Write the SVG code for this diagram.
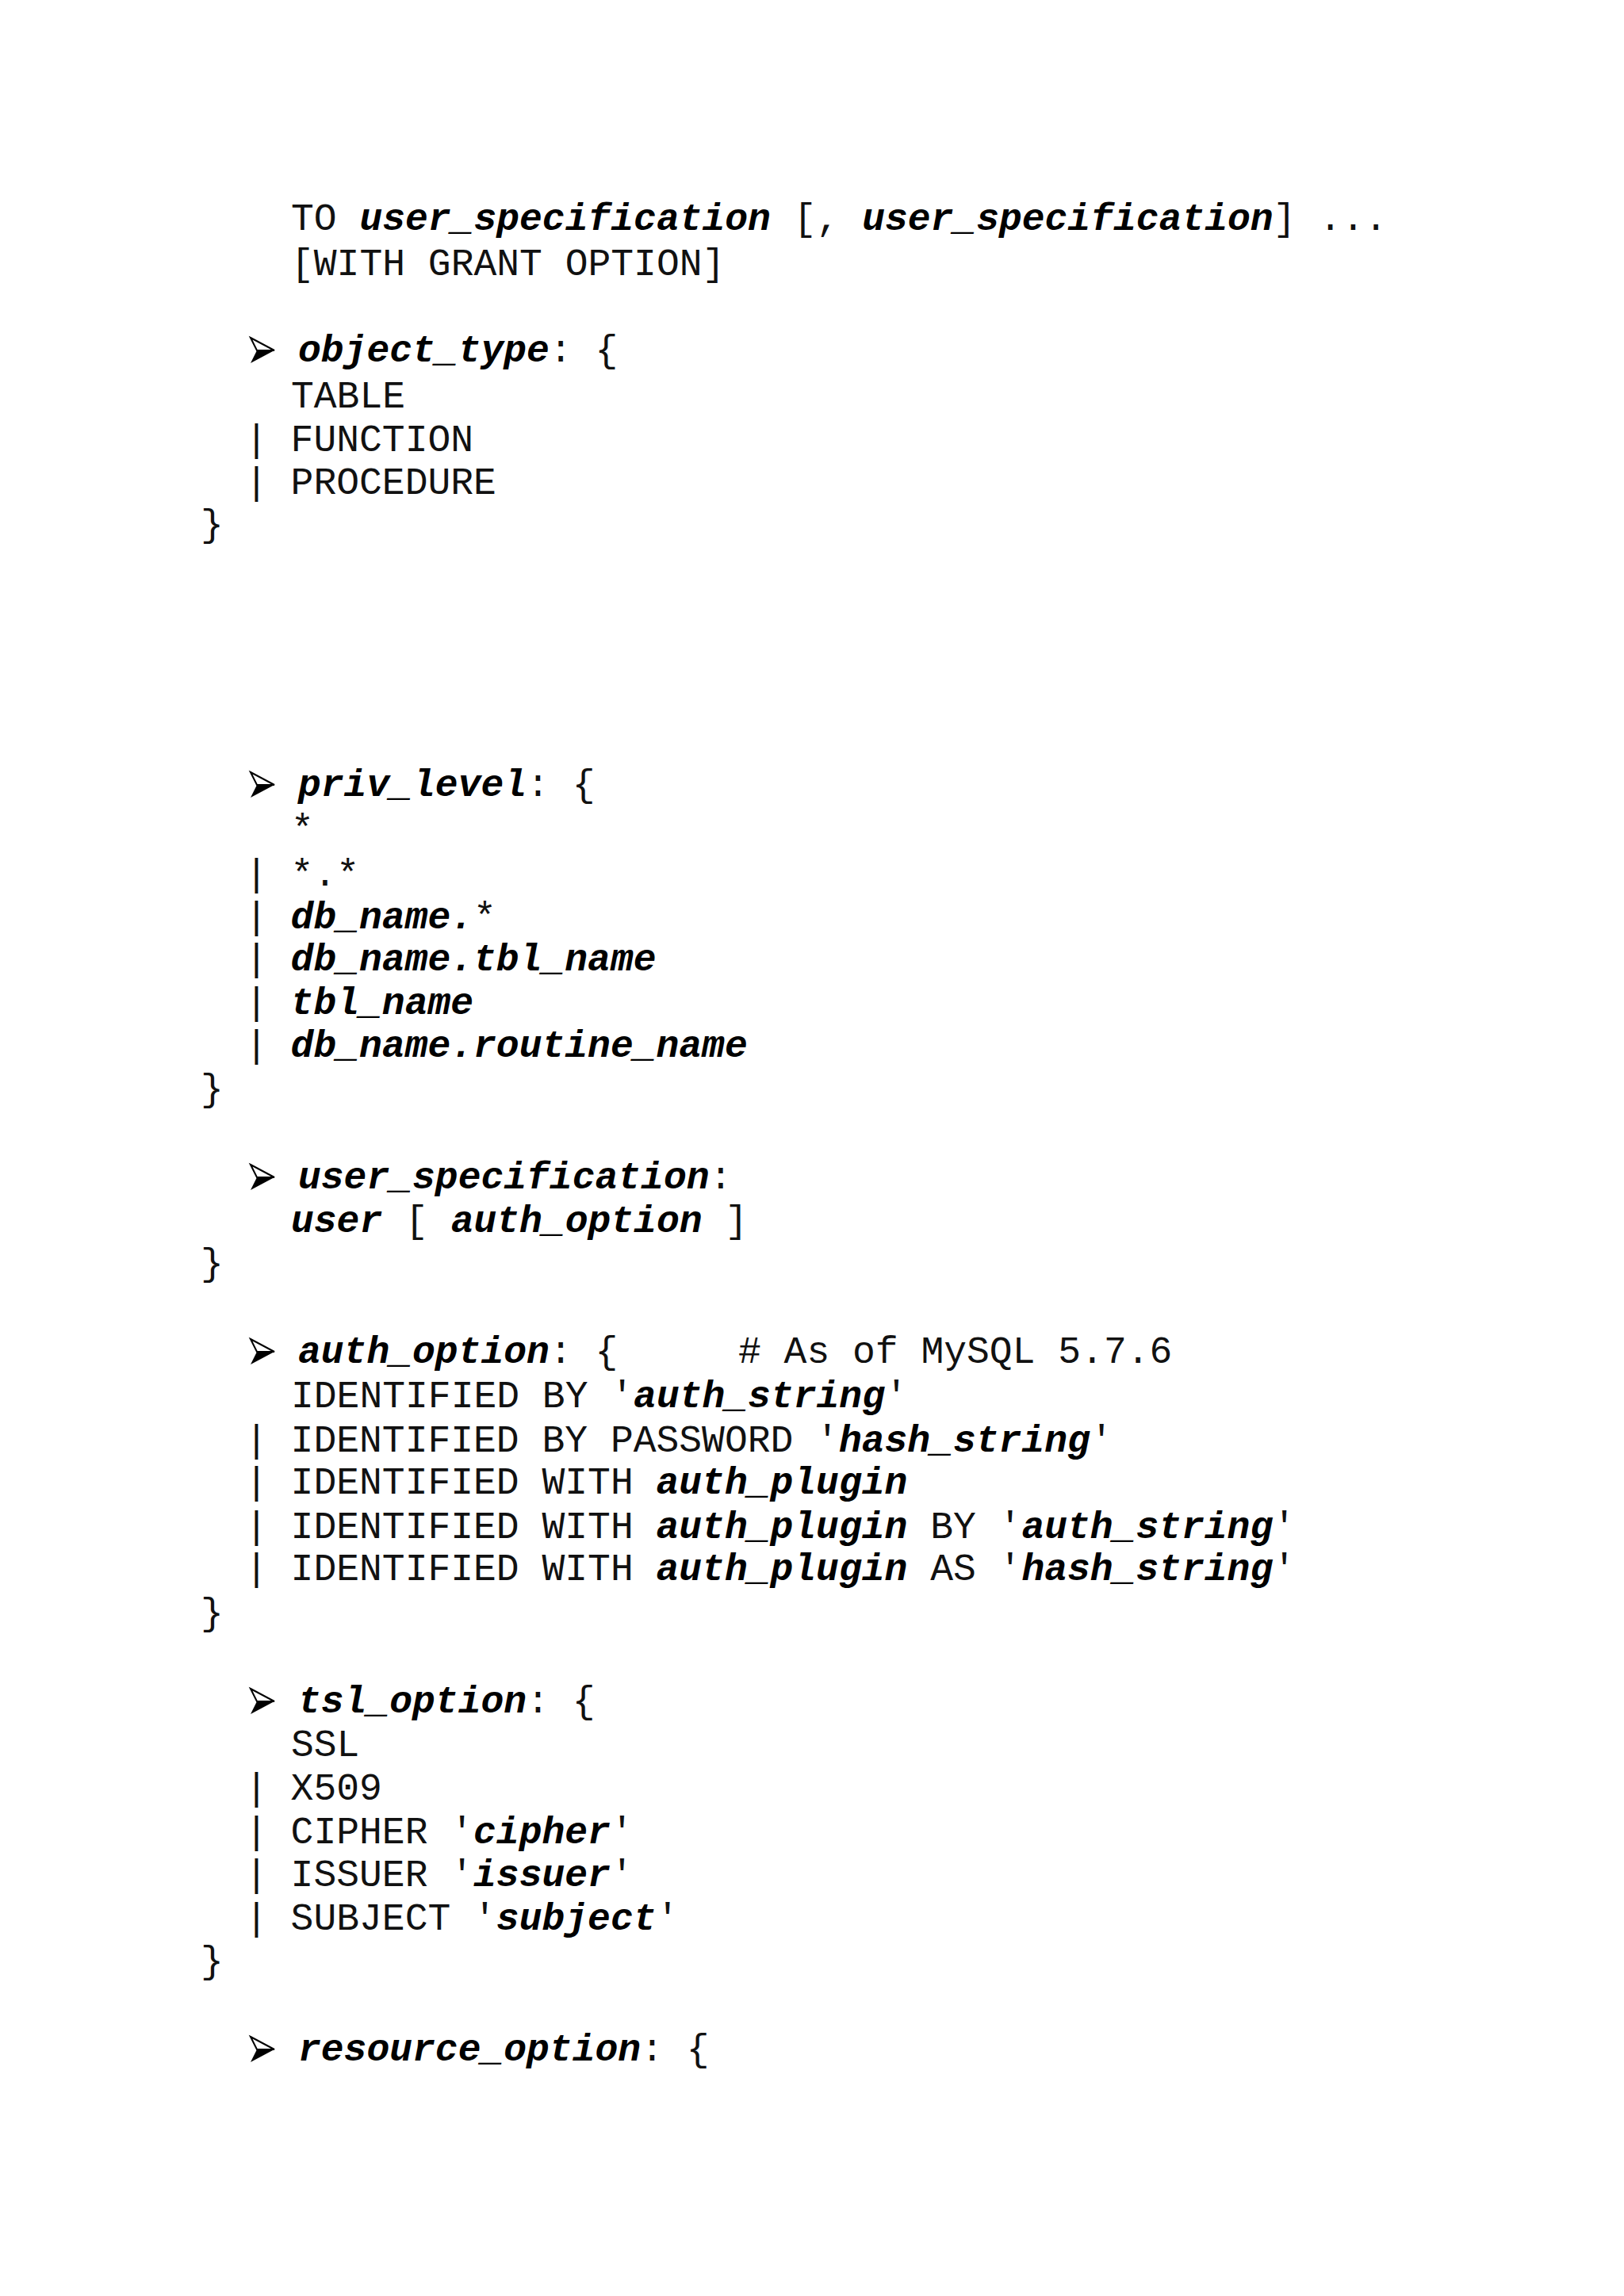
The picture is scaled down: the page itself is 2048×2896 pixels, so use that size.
<svg xmlns="http://www.w3.org/2000/svg" width="2048" height="2896" viewBox="0 0 2048 2896">
<defs>
<style>
text{font-family:"Liberation Mono","Courier New",monospace;font-size:48px;fill:#111;white-space:pre}
.b{font-weight:bold;font-style:italic;fill:#000}
</style>
<g id="arrow">
<polygon points="0,0 30,16 0,32 8,16" fill="#000"/>
<polygon points="0,0 30,16 8,16" fill="#fff" stroke="#000" stroke-width="2"/>
</g>
</defs>
<rect width="2048" height="2896" fill="#fff"/>
<g id="grant">
<text x="367" y="290" xml:space="preserve">TO <tspan class="b">user_specification</tspan> [, <tspan class="b">user_specification</tspan>] ...</text>
<text x="367" y="347">[WITH GRANT OPTION]</text>
</g>
<g id="object_type">
<use href="#arrow" x="316" y="426"/>
<text x="376" y="456"><tspan class="b">object_type</tspan>: {</text>
<text x="367" y="514">TABLE</text>
<text x="309" y="569" xml:space="preserve">| FUNCTION</text>
<text x="309" y="623" xml:space="preserve">| PROCEDURE</text>
<text x="253" y="676">}</text>
</g>
<g id="priv_level">
<use href="#arrow" x="316" y="974"/>
<text x="376" y="1004"><tspan class="b">priv_level</tspan>: {</text>
<text x="367" y="1060">*</text>
<text x="309" y="1117" xml:space="preserve">| *.*</text>
<text x="309" y="1171" xml:space="preserve">| <tspan class="b">db_name.</tspan>*</text>
<text x="309" y="1224" xml:space="preserve">| <tspan class="b">db_name.tbl_name</tspan></text>
<text x="309" y="1279" xml:space="preserve">| <tspan class="b">tbl_name</tspan></text>
<text x="309" y="1333" xml:space="preserve">| <tspan class="b">db_name.routine_name</tspan></text>
<text x="253" y="1388">}</text>
</g>
<g id="user_specification">
<use href="#arrow" x="316" y="1469"/>
<text x="376" y="1499"><tspan class="b">user_specification</tspan>:</text>
<text x="367" y="1554" xml:space="preserve"><tspan class="b">user</tspan> [ <tspan class="b">auth_option</tspan> ]</text>
<text x="253" y="1608">}</text>
</g>
<g id="auth_option">
<use href="#arrow" x="316" y="1689"/>
<text x="376" y="1719"><tspan class="b">auth_option</tspan>: {</text>
<text x="931" y="1719"># As of MySQL 5.7.6</text>
<text x="367" y="1775" xml:space="preserve">IDENTIFIED BY '<tspan class="b">auth_string</tspan>'</text>
<text x="309" y="1831" xml:space="preserve">| IDENTIFIED BY PASSWORD '<tspan class="b">hash_string</tspan>'</text>
<text x="309" y="1884" xml:space="preserve">| IDENTIFIED WITH <tspan class="b">auth_plugin</tspan></text>
<text x="309" y="1940" xml:space="preserve">| IDENTIFIED WITH <tspan class="b">auth_plugin</tspan> BY '<tspan class="b">auth_string</tspan>'</text>
<text x="309" y="1993" xml:space="preserve">| IDENTIFIED WITH <tspan class="b">auth_plugin</tspan> AS '<tspan class="b">hash_string</tspan>'</text>
<text x="253" y="2049">}</text>
</g>
<g id="tsl_option">
<use href="#arrow" x="316" y="2130"/>
<text x="376" y="2160"><tspan class="b">tsl_option</tspan>: {</text>
<text x="367" y="2215">SSL</text>
<text x="309" y="2270" xml:space="preserve">| X509</text>
<text x="309" y="2325" xml:space="preserve">| CIPHER '<tspan class="b">cipher</tspan>'</text>
<text x="309" y="2379" xml:space="preserve">| ISSUER '<tspan class="b">issuer</tspan>'</text>
<text x="309" y="2434" xml:space="preserve">| SUBJECT '<tspan class="b">subject</tspan>'</text>
<text x="253" y="2488">}</text>
</g>
<g id="resource_option">
<use href="#arrow" x="316" y="2569"/>
<text x="376" y="2599"><tspan class="b">resource_option</tspan>: {</text>
</g>
<g id="connectors"/>
</svg>
